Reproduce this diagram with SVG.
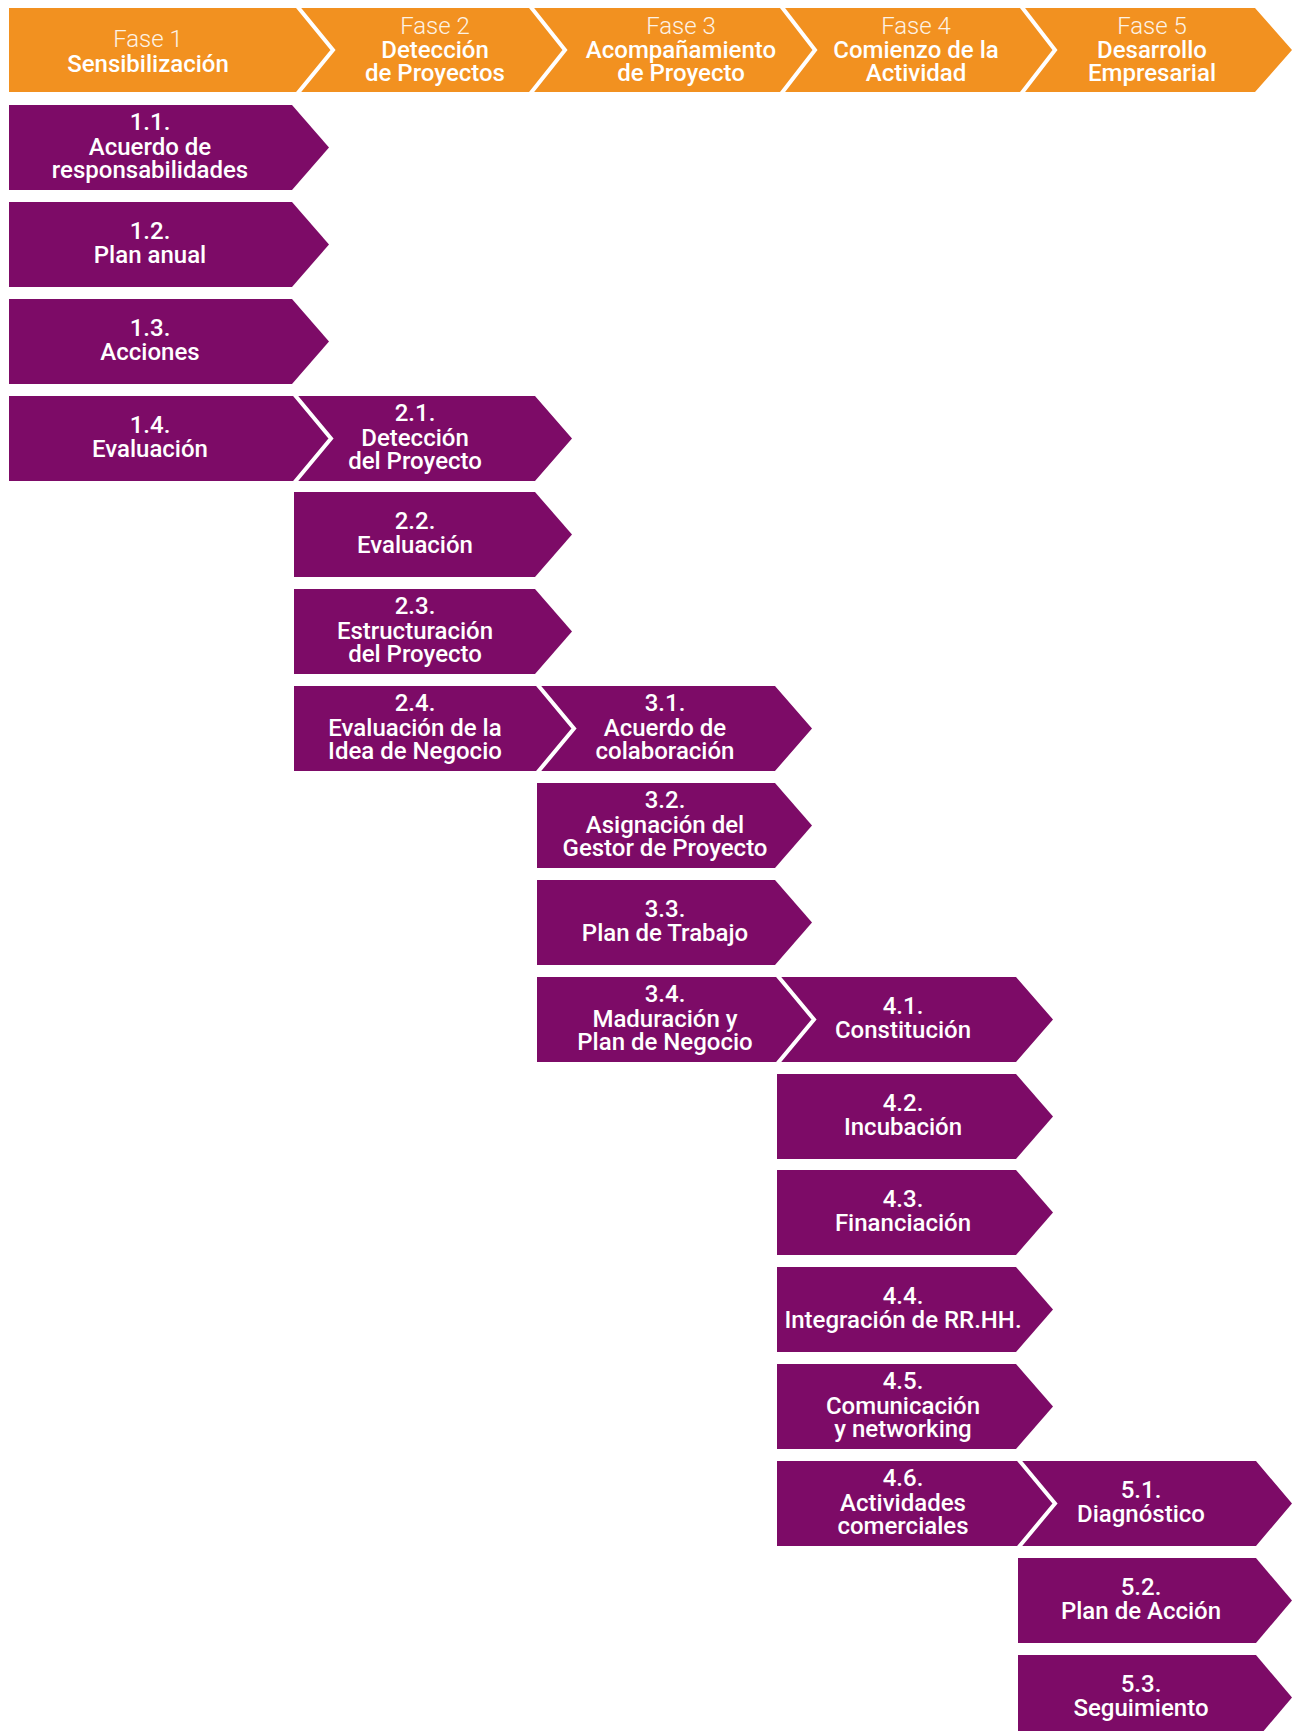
<svg xmlns="http://www.w3.org/2000/svg" width="1300" height="1731" viewBox="0 0 1300 1731">
<style>
.ph{fill:#F29120}
.bx{fill:#7D0B67}
.sep{fill:none;stroke:#FFFFFF;stroke-width:4;stroke-linejoin:miter}
text{font-family:Roboto,"Liberation Sans","DejaVu Sans",sans-serif;font-size:24px;font-weight:500;fill:#FFFFFF;text-anchor:middle}
text.lt{font-weight:300;fill:#FDF3E6}
</style>
<rect width="1300" height="1731" fill="#FFFFFF"/>

<g id="phases">
<g id="fase1"><polygon class="ph" points="9,8 297,8 333,50 297,92 9,92"/><text x="148" y="46.5" class="lt">Fase 1</text><text x="148" y="71.5">Sensibilización</text></g>
<g id="fase2"><polygon class="ph" points="297,8 530,8 565,50 530,92 297,92 333,50"/><text x="435" y="33.5" class="lt">Fase 2</text><text x="435" y="57.5">Detección</text><text x="435" y="81">de Proyectos</text></g>
<g id="fase3"><polygon class="ph" points="530,8 781,8 815,50 781,92 530,92 565,50"/><text x="681" y="33.5" class="lt">Fase 3</text><text x="681" y="57.5">Acompañamiento</text><text x="681" y="81">de Proyecto</text></g>
<g id="fase4"><polygon class="ph" points="781,8 1021,8 1055,50 1021,92 781,92 815,50"/><text x="916" y="33.5" class="lt">Fase 4</text><text x="916" y="57.5">Comienzo de la</text><text x="916" y="81">Actividad</text></g>
<g id="fase5"><polygon class="ph" points="1021,8 1255,8 1292,50 1255,92 1021,92 1055,50"/><text x="1152" y="33.5" class="lt">Fase 5</text><text x="1152" y="57.5">Desarrollo</text><text x="1152" y="81">Empresarial</text></g>
</g>

<g id="n1-1"><polygon class="bx" points="9,105 292,105 329,147.5 292,190 9,190"/><text x="150" y="129.5">1.1.</text><text x="150" y="155">Acuerdo de</text><text x="150" y="178">responsabilidades</text></g>
<g id="n1-2"><polygon class="bx" points="9,202 292,202 329,244.5 292,287 9,287"/><text x="150" y="238.5">1.2.</text><text x="150" y="262.5">Plan anual</text></g>
<g id="n1-3"><polygon class="bx" points="9,299 292,299 329,341.5 292,384 9,384"/><text x="150" y="335.5">1.3.</text><text x="150" y="359.5">Acciones</text></g>
<g id="n1-4"><polygon class="bx" points="9,396 294,396 331,438.5 294,481 9,481"/><text x="150" y="432.5">1.4.</text><text x="150" y="456.5">Evaluación</text></g>

<g id="n2-1"><polygon class="bx" points="294,396 535,396 572,438.5 535,481 294,481 331,438.5"/><text x="415" y="420.5">2.1.</text><text x="415" y="446">Detección</text><text x="415" y="469">del Proyecto</text></g>
<g id="n2-2"><polygon class="bx" points="294,492 535,492 572,534.5 535,577 294,577"/><text x="415" y="528.5">2.2.</text><text x="415" y="552.5">Evaluación</text></g>
<g id="n2-3"><polygon class="bx" points="294,589 535,589 572,631.5 535,674 294,674"/><text x="415" y="613.5">2.3.</text><text x="415" y="639">Estructuración</text><text x="415" y="662">del Proyecto</text></g>
<g id="n2-4"><polygon class="bx" points="294,686 537,686 574,728.5 537,771 294,771"/><text x="415" y="710.5">2.4.</text><text x="415" y="736">Evaluación de la</text><text x="415" y="759">Idea de Negocio</text></g>

<g id="n3-1"><polygon class="bx" points="537,686 775,686 812,728.5 775,771 537,771 574,728.5"/><text x="665" y="710.5">3.1.</text><text x="665" y="736">Acuerdo de</text><text x="665" y="759">colaboración</text></g>
<g id="n3-2"><polygon class="bx" points="537,783 775,783 812,825.5 775,868 537,868"/><text x="665" y="807.5">3.2.</text><text x="665" y="833">Asignación del</text><text x="665" y="856">Gestor de Proyecto</text></g>
<g id="n3-3"><polygon class="bx" points="537,880 775,880 812,922.5 775,965 537,965"/><text x="665" y="916.5">3.3.</text><text x="665" y="940.5">Plan de Trabajo</text></g>
<g id="n3-4"><polygon class="bx" points="537,977 777,977 814,1019.5 777,1062 537,1062"/><text x="665" y="1001.5">3.4.</text><text x="665" y="1027">Maduración y</text><text x="665" y="1050">Plan de Negocio</text></g>

<g id="n4-1"><polygon class="bx" points="777,977 1016,977 1053,1019.5 1016,1062 777,1062 814,1019.5"/><text x="903" y="1013.5">4.1.</text><text x="903" y="1037.5">Constitución</text></g>
<g id="n4-2"><polygon class="bx" points="777,1074 1016,1074 1053,1116.5 1016,1159 777,1159"/><text x="903" y="1110.5">4.2.</text><text x="903" y="1134.5">Incubación</text></g>
<g id="n4-3"><polygon class="bx" points="777,1170 1016,1170 1053,1212.5 1016,1255 777,1255"/><text x="903" y="1206.5">4.3.</text><text x="903" y="1230.5">Financiación</text></g>
<g id="n4-4"><polygon class="bx" points="777,1267 1016,1267 1053,1309.5 1016,1352 777,1352"/><text x="903" y="1303.5">4.4.</text><text x="903" y="1327.5">Integración de RR.HH.</text></g>
<g id="n4-5"><polygon class="bx" points="777,1364 1016,1364 1053,1406.5 1016,1449 777,1449"/><text x="903" y="1388.5">4.5.</text><text x="903" y="1414">Comunicación</text><text x="903" y="1437">y networking</text></g>
<g id="n4-6"><polygon class="bx" points="777,1461 1018,1461 1055,1503.5 1018,1546 777,1546"/><text x="903" y="1485.5">4.6.</text><text x="903" y="1511">Actividades</text><text x="903" y="1534">comerciales</text></g>

<g id="n5-1"><polygon class="bx" points="1018,1461 1256,1461 1292,1503.5 1256,1546 1018,1546 1055,1503.5"/><text x="1141" y="1497.5">5.1.</text><text x="1141" y="1521.5">Diagnóstico</text></g>
<g id="n5-2"><polygon class="bx" points="1018,1558 1256,1558 1292,1600.5 1256,1643 1018,1643"/><text x="1141" y="1594.5">5.2.</text><text x="1141" y="1618.5">Plan de Acción</text></g>
<g id="n5-3"><polygon class="bx" points="1018,1655 1256,1655 1292,1697.5 1256,1740 1018,1740"/><text x="1141" y="1691.5">5.3.</text><text x="1141" y="1715.5">Seguimiento</text></g>

<g id="connectors">
<polyline class="sep" points="297,6 333,50 297,94"/>
<polyline class="sep" points="530,6 565,50 530,94"/>
<polyline class="sep" points="781,6 815,50 781,94"/>
<polyline class="sep" points="1021,6 1055,50 1021,94"/>
<polyline class="sep" points="294,394 331,438.5 294,483"/>
<polyline class="sep" points="537,684 574,728.5 537,773"/>
<polyline class="sep" points="777,975 814,1019.5 777,1064"/>
<polyline class="sep" points="1018,1459 1055,1503.5 1018,1548"/>
</g>
</svg>
